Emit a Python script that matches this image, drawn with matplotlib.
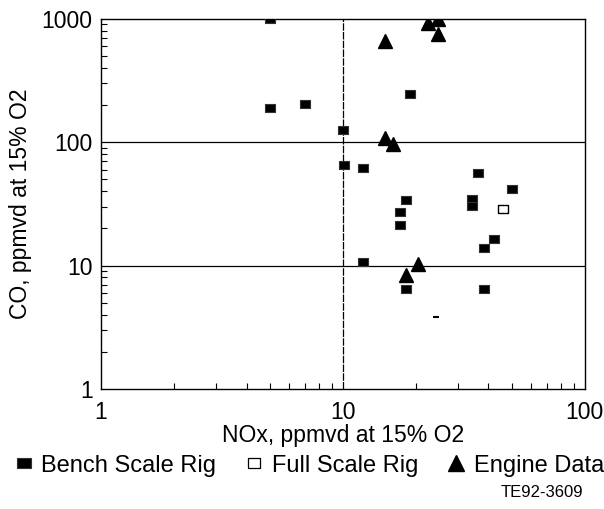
import numpy as np
import matplotlib
matplotlib.use('Agg')
import matplotlib.pyplot as plt
from matplotlib.lines import Line2D
from matplotlib.ticker import FixedLocator, LogLocator, NullFormatter

plt.rcParams.update({'font.family': ['Liberation Sans', 'DejaVu Sans'],
                     'font.size': 15})

# values
bench_nox = [5.0, 5.0, 7.0, 10.0, 10.1, 12.1, 19.0, 36.3, 50.0, 18.3, 17.2, 17.2,
             34.3, 34.3, 38.4, 42.3, 12.1, 18.3, 38.4]
bench_co = [1000, 190, 205, 125, 65, 62, 245, 56, 42, 34, 27, 21.5,
            34.5, 30.5, 14.0, 16.3, 10.6, 6.4, 6.5]
full_nox = [46.0]
full_co = [28.5]
engine_nox = [14.9, 22.6, 24.8, 24.8, 14.9, 16.1, 20.4, 18.3]
engine_co = [660, 930, 990, 760, 108, 96, 10.3, 8.4]
# little stray mark in the scan
stray_nox = [24.2]
stray_co = [3.8]

rect = [(-1.35, -1), (1.35, -1), (1.35, 1), (-1.35, 1), (-1.35, -1)]

fig = plt.figure(figsize=(6.04, 5.09), dpi=100)
ax = fig.add_axes([0.167, 0.236, 0.801, 0.727])

ax.set_xscale('log')
ax.set_yscale('log')
ax.set_xlim(1, 100)
ax.set_ylim(1, 1000)

ax.plot(bench_nox, bench_co, ls='none', marker=rect, ms=7.5, mfc='black', mec='#333333',
        mew=0.8, zorder=3)
ax.plot(full_nox, full_co, ls='none', marker=rect, ms=7.5, mfc='white', mec='black',
        mew=1.0, zorder=3)
ax.plot(engine_nox, engine_co, ls='none', marker='^', ms=10, mfc='black', mec='black',
        zorder=3)
ax.plot(stray_nox, stray_co, ls='none', marker='_', ms=4, mec='black', mew=1.5)

ax.xaxis.set_major_locator(FixedLocator([1, 10, 100]))
ax.yaxis.set_major_locator(FixedLocator([1, 10, 100, 1000]))
ax.set_xticklabels(['1', '10', '100'])
ax.set_yticklabels(['1', '10', '100', '1000'])
ax.xaxis.set_minor_locator(LogLocator(base=10, subs=np.arange(2, 10)))
ax.yaxis.set_minor_locator(LogLocator(base=10, subs=np.arange(2, 10)))
ax.xaxis.set_minor_formatter(NullFormatter())
ax.yaxis.set_minor_formatter(NullFormatter())
ax.tick_params(which='both', direction='in', top=False, right=False, labelsize=16.5)
ax.tick_params(axis='x', which='major', length=0, pad=9)
ax.tick_params(axis='y', which='major', length=0, pad=6)
ax.tick_params(which='minor', length=4, width=0.8)

for v in [10, 100]:
    ax.axhline(v, color='black', lw=0.9, zorder=1)
ax.axvline(10, color='black', lw=0.9, ls=(0, (6, 1)), zorder=1)

for s in ax.spines.values():
    s.set_linewidth(1.0)

ax.set_xlabel('NOx, ppmvd at 15% O2', fontsize=16.5, labelpad=0)
ax.set_ylabel('CO, ppmvd at 15% O2', fontsize=16.5, labelpad=7)

handles = [
    Line2D([], [], ls='none', marker=rect, ms=10, mfc='black', mec='#333333', mew=0.8),
    Line2D([], [], ls='none', marker=rect, ms=9, mfc='white', mec='black', mew=0.9),
    Line2D([], [], ls='none', marker='^', ms=11, mfc='black', mec='black'),
]
labels = ['Bench Scale Rig', 'Full Scale Rig', 'Engine Data']
fig.legend(handles, labels, loc='center', bbox_to_anchor=(0.51, 0.085), ncol=3,
           frameon=False, fontsize=17, handletextpad=0.25, columnspacing=1.1,
           handlelength=1.0, borderaxespad=0)

fig.text(0.965, 0.033, 'TE92-3609', ha='right', va='center', fontsize=12)

fig.savefig('out.png', dpi=100)
